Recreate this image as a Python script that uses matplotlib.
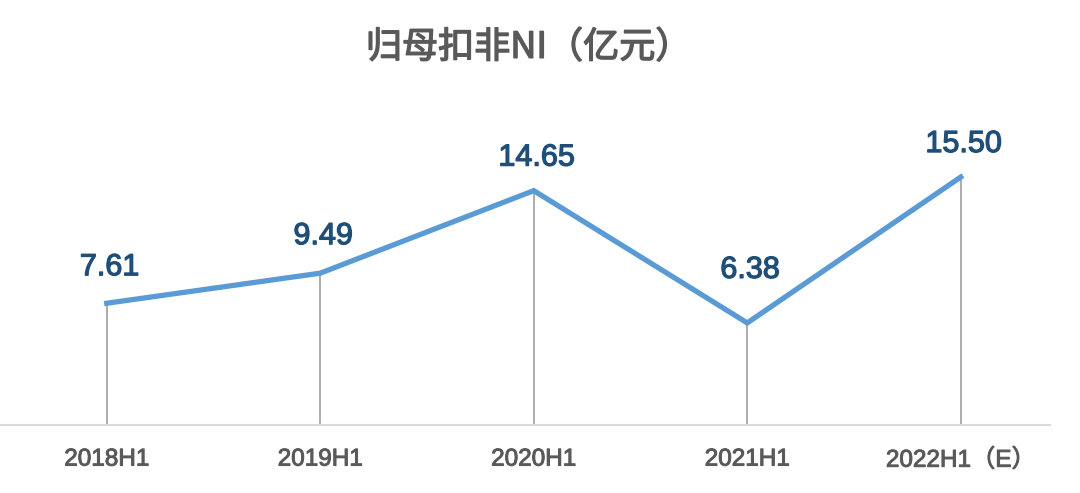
import matplotlib
matplotlib.use('Agg')
from matplotlib import pyplot as plt
from matplotlib import patheffects as pe

# Data
periods = ['2018H1', '2019H1', '2020H1', '2021H1', '2022H1（E）']
values = [7.61, 9.49, 14.65, 6.38, 15.50]
title = '归母扣非NI（亿元）'

plt.rcParams['font.family'] = ['Liberation Sans', 'Noto Sans CJK SC', 'DejaVu Sans']

fig = plt.figure(figsize=(10.8, 4.93), dpi=100)
ax = fig.add_axes([0.0, 0.138, 1050 / 1080, 0.584])

x = list(range(len(values)))

# gray drop lines from each point to the baseline
ax.vlines(x, 0, values, colors='#A6A6A6', linewidth=1.3, zorder=1)
ax.plot(x, values, color='#5B9BD5', linewidth=3.8, solid_joinstyle='miter', zorder=2)

# label gap above each point (pixels), the dip label sits higher like in Excel
gaps = [28, 29, 25, 45, 25]
label_fx = [pe.withStroke(linewidth=0.9, foreground='#1F4E79')]
for xi, v, g in zip(x, values, gaps):
    ax.annotate(f'{v:.2f}', (xi, v), xytext=(2, g * 0.72), textcoords='offset points',
                ha='center', va='baseline', fontsize=22, color='#1F4E79',
                path_effects=label_fx)

ax.set_xlim(-0.5, 4.418)
ax.set_ylim(0, 18)
ax.set_xticks(x)
ax.set_xticklabels(periods)
ax.tick_params(axis='x', length=0, pad=17, labelsize=17.5, labelcolor='#595959')
for lbl in ax.get_xticklabels():
    lbl.set_path_effects([pe.withStroke(linewidth=0.7, foreground='#595959')])
ax.set_yticks([])

for side in ['top', 'left', 'right']:
    ax.spines[side].set_visible(False)
ax.spines['bottom'].set_color('#D9D9D9')
ax.spines['bottom'].set_linewidth(1.5)

fig.text(0.4895, 0.903, title, ha='center', va='center', fontsize=26,
         color='#595959', family=['Noto Sans CJK SC', 'DejaVu Sans'],
         path_effects=[pe.withStroke(linewidth=1.0, foreground='#595959')])

fig.savefig('out.png', dpi=100)
